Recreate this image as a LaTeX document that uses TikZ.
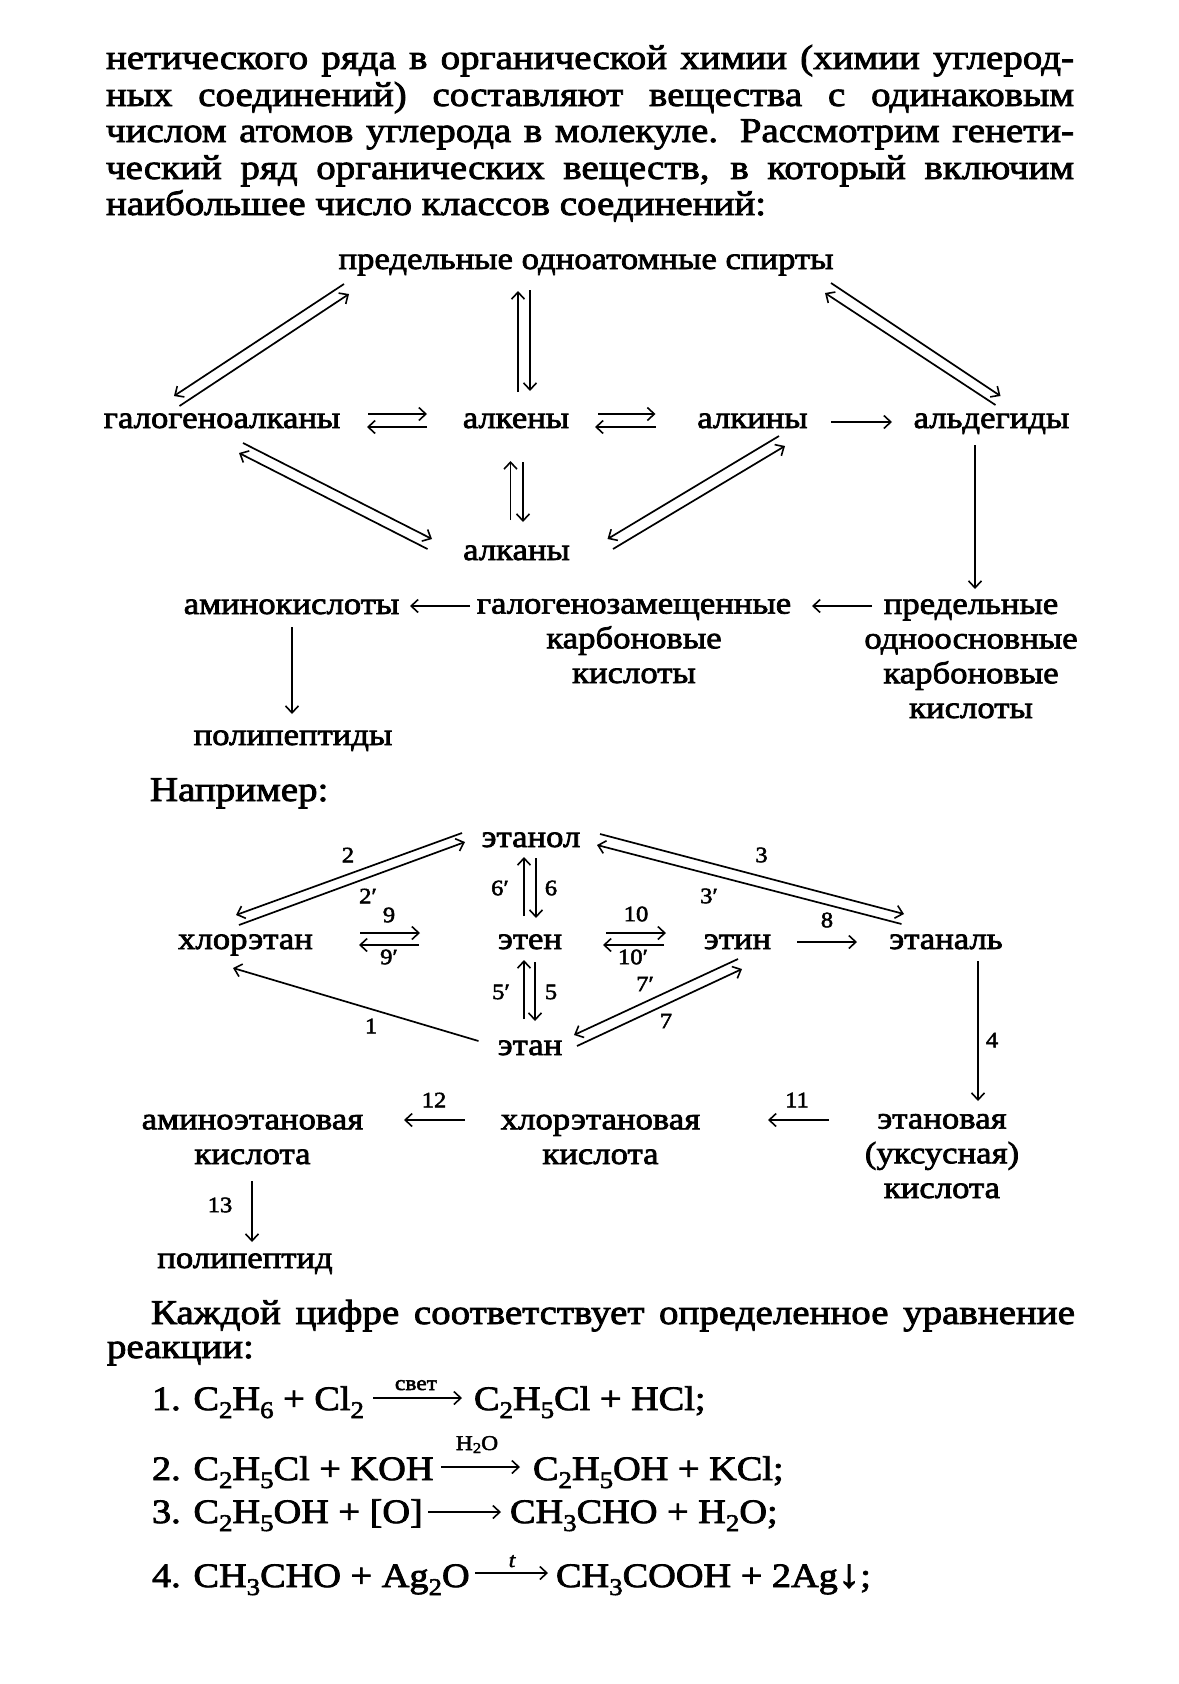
\documentclass[tikz,border=0pt]{standalone}
\usepackage{fontspec}
\usetikzlibrary{arrows.meta}
\setmainfont[FakeStretch=1.12,FakeBold=2.3]{Liberation Serif}
\newcommand{\bodyf}{\fontsize{31}{34.7}\selectfont}
\newcommand{\parf}{\fontsize{34.8}{36}\selectfont}
\newcommand{\eqf}{\fontsize{34.2}{36}\selectfont}
\newcommand{\labf}{\fontsize{22}{24}\selectfont}
\newcommand{\ssb}[1]{\raisebox{-8pt}{\fontsize{24}{24}\selectfont #1}}
\newcommand{\lnk}[5][ar]{\draw[#1] ([shift={(#3)}]#2.base) -- ([shift={(#5)}]#4.base);}
\newcommand{\lnw}[5][ar]{\draw[#1] ([shift={(#3)}]#2.base west) -- ([shift={(#5)}]#4.base west);}
\newcommand{\jl}[2]{\makebox[#1pt][s]{#2}}
\tikzset{
  x=1pt,y=-1pt,
  txt/.style={inner sep=0pt,outer sep=0pt,anchor=base,align=center,font=\bodyf},
  txl/.style={inner sep=0pt,outer sep=0pt,anchor=base west,font=\parf},
  eqn/.style={inner sep=0pt,outer sep=0pt,anchor=base west,font=\eqf},
  lab/.style={inner sep=0pt,outer sep=0pt,anchor=center,font=\labf},
  arl/.style={inner sep=0pt,outer sep=0pt,anchor=base,font=\fontsize{21}{22}\selectfont},
  ar/.style={line width=1.7pt,-{Straight Barb[length=7pt,width=13pt,line width=1.6pt]}},
}
\begin{document}
\begin{tikzpicture}
\useasboundingbox (0,0) rectangle (1178,1684);
\fill[white] (0,0) rectangle (1178,1684);
% paragraph
\node[txl] (p1) at (106,69) {\jl{968}{нетического ряда в органической химии (химии углерод-}};
\node[txl] (p2) at (106,106) {\jl{968}{ных соединений) составляют вещества с одинаковым}};
\node[txl] (p3) at (106,142) {\jl{968}{числом атомов углерода в молекуле. Рассмотрим генети-}};
\node[txl] (p4) at (106,179) {\jl{968}{ческий ряд органических веществ, в который включим}};
\node[txl] (p5) at (106,215) {наибольшее число классов соединений:};
% scheme 1
\node[txt] (sp) at (586,269) {предельные одноатомные спирты};
\node[txt] (gal) at (222,428) {галогеноалканы};
\node[txt] (alken) at (516,428) {алкены};
\node[txt] (alkin) at (752.5,428) {алкины};
\node[txt] (ald) at (991.5,428) {альдегиды};
\node[txt] (alkan) at (516.5,560) {алканы};
\node[txt] (amino) at (291.5,614) {аминокислоты};
\node[txt] (galz) at (634,683) {галогенозамещенные\\карбоновые\\кислоты};
\node[txt] (pred) at (971,718) {предельные\\одноосновные\\карбоновые\\кислоты};
\node[txt] (poli) at (293,745) {полипептиды};
\node[txl] (napr) at (150,801) {Например:};
\lnk{sp}{344-586,284-269}{gal}{174-222,396-428}
\lnk{gal}{179.5-222,406-428}{sp}{349-586,294-269}
\lnk{alken}{518-516,392-428}{sp}{518-586,291-269}
\lnk{sp}{530-586,290-269}{alken}{530-516,391-428}
\lnk{sp}{831-586,283-269}{ald}{1000.5-991.5,396-428}
\lnk{ald}{995.5-991.5,405-428}{sp}{825-586,293-269}
\lnk{gal}{368-222,414-428}{alken}{427-516,414-428}
\lnk{alken}{427-516,427-428}{gal}{367-222,427-428}
\lnk{alken}{598-516,414-428}{alkin}{655.5-752.5,414-428}
\lnk{alkin}{655.5-752.5,427-428}{alken}{595-516,427-428}
\lnk{alkin}{831-752.5,422-428}{ald}{892-991.5,422-428}
\lnk{ald}{975-991.5,445-428}{pred}{975-971,589-718}
\lnk{gal}{243-222,443-428}{alkan}{432-516.5,539-560}
\lnk{alkan}{427.5-516.5,549-560}{gal}{239-222,453-428}
\lnk{alkan}{510.5-516.5,520-560}{alken}{510.5-516,461-428}
\lnk{alken}{523-516,462-428}{alkan}{523-516.5,522-560}
\lnk{alkin}{779-752.5,436-428}{alkan}{607.5-516.5,539-560}
\lnk{alkan}{613-516.5,549-560}{alkin}{785-752.5,446-428}
\lnk{galz}{470-634,606-683}{amino}{410-291.5,606-614}
\lnk{pred}{872-971,606-718}{galz}{812-634,606-683}
\lnk{amino}{292-291.5,627-614}{poli}{292-293,714-745}
% scheme 2
\node[txt] (etl) at (531,847) {этанол};
\node[txt] (chl) at (245.5,949) {хлорэтан};
\node[txt] (ete) at (530,949) {этен};
\node[txt] (eti) at (737.5,949) {этин};
\node[txt] (etn) at (946,949) {этаналь};
\node[txt] (eta) at (530,1055) {этан};
\node[txt] (ami) at (252.5,1164) {аминоэтановая\\кислота};
\node[txt] (chk) at (600.5,1164) {хлорэтановая\\кислота};
\node[txt] (etk) at (942,1198) {этановая\\(уксусная)\\кислота};
\node[txt] (pol) at (245,1268) {полипептид};
\lnk{etl}{462-531,833-847}{chl}{236-245.5,915-949}
\lnk{chl}{239-245.5,925-949}{etl}{465-531,842-847}
\lnk{etl}{600-531,834-847}{etn}{904-946,914-949}
\lnk{etn}{901.5-946,924-949}{etl}{597-531,845-847}
\lnk{ete}{524-530,916-949}{etl}{524-531,857-847}
\lnk{etl}{536-531,858-847}{ete}{536-530,918-949}
\lnk{eta}{524-530,1019-1055}{ete}{524-530,960-949}
\lnk{ete}{535-530,962-949}{eta}{535-530,1021-1055}
\lnk{chl}{360-245.5,933-949}{ete}{420-530,933-949}
\lnk{ete}{418.5-530,945-949}{chl}{359-245.5,945-949}
\lnk{ete}{606-530,933-949}{eti}{666-737.5,933-949}
\lnk{eti}{664-737.5,945-949}{ete}{603-530,945-949}
\lnk{eti}{797-737.5,942-949}{etn}{857-946,942-949}
\lnk{eta}{478.5-530,1041-1055}{chl}{233-245.5,968-949}
\lnk{eti}{738-737.5,959-949}{eta}{574-530,1035-1055}
\lnk{eta}{577-530,1046-1055}{eti}{742-737.5,969-949}
\lnk{etn}{978-946,961-949}{etk}{978-942,1101-1198}
\lnk{etk}{829-942,1120-1198}{chk}{768-600.5,1120-1164}
\lnk{chk}{465-600.5,1120-1164}{ami}{404-252.5,1120-1164}
\lnk{ami}{252-252.5,1181-1164}{pol}{252-245,1242-1268}
\node[lab] (n2) at (348,855) {2};
\node[lab] (n2p) at (368,896) {2′};
\node[lab] (n3) at (761.5,855) {3};
\node[lab] (n3p) at (709,896) {3′};
\node[lab] (n6p) at (500,888) {6′};
\node[lab] (n6) at (551,888) {6};
\node[lab] (n9) at (389,915) {9};
\node[lab] (n9p) at (389,957) {9′};
\node[lab] (n10) at (636,914) {10};
\node[lab] (n10p) at (633,957) {10′};
\node[lab] (n8) at (827,920) {8};
\node[lab] (n5p) at (501,992) {5′};
\node[lab] (n5) at (551,992) {5};
\node[lab] (n7p) at (645,984) {7′};
\node[lab] (n7) at (666,1021) {7};
\node[lab] (n1) at (371,1026) {1};
\node[lab] (n4) at (992,1040) {4};
\node[lab] (n11) at (797,1100) {11};
\node[lab] (n12) at (434,1100) {12};
\node[lab] (n13) at (220,1205) {13};
% text
\node[txl] (q1) at (151,1324) {\jl{924}{Каждой цифре соответствует определенное уравнение}};
\node[txl] (q2) at (107,1358) {реакции:};
% equations
\node[eqn] (e1a) at (152,1410) {1. C\ssb{2}H\ssb{6} + Cl\ssb{2}};
\node[eqn] (e1b) at (474,1410) {C\ssb{2}H\ssb{5}Cl + HCl;};
\node[arl] (e1l) at (416,1390) {свет};
\lnw{e1a}{373-152,1398-1410}{e1b}{462-474,1398-1410}
\node[eqn] (e2a) at (152,1480) {2. C\ssb{2}H\ssb{5}Cl + KOH};
\node[eqn] (e2b) at (533,1480) {C\ssb{2}H\ssb{5}OH + KCl;};
\node[arl] (e2l) at (477,1450) {H\raisebox{-3pt}{\fontsize{15}{15}\selectfont 2}O};
\lnw{e2a}{441-152,1467-1480}{e2b}{520-533,1467-1480}
\node[eqn] (e3a) at (152,1523) {3. C\ssb{2}H\ssb{5}OH + [O]};
\node[eqn] (e3b) at (510,1523) {CH\ssb{3}CHO + H\ssb{2}O;};
\lnw{e3a}{428-152,1512-1523}{e3b}{501-510,1512-1523}
\node[eqn] (e4a) at (152,1587) {4. CH\ssb{3}CHO + Ag\ssb{2}O};
\node[eqn] (e4b) at (556,1587) {CH\ssb{3}COOH + 2Ag{\fontsize{40}{40}\selectfont ↓};};
\node[arl] (e4l) at (512,1567) {\itshape t};
\lnw{e4a}{475-152,1573-1587}{e4b}{548-556,1573-1587}
\end{tikzpicture}
\end{document}
